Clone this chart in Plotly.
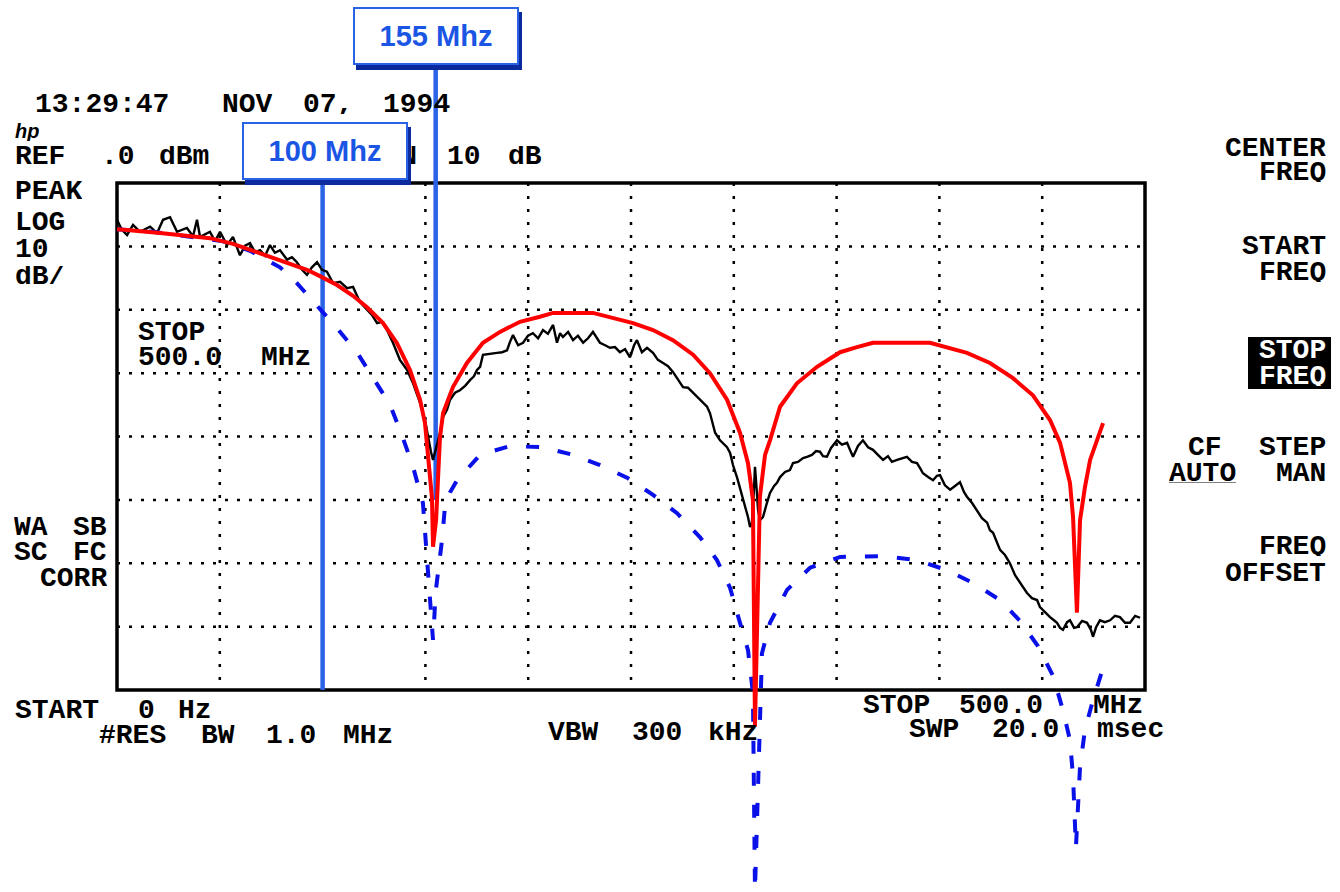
import plotly.graph_objects as go

# ---------------- data (MHz, dBm) ----------------
span_mhz = [0, 500]
ref_db = [0, -80]
grid_f = [50, 100, 150, 200, 250, 300, 350, 400, 450]
grid_db = [-10, -20, -30, -40, -50, -60, -70]

marker_f = [100, 155]
marker_labels = ["100 Mhz", "155 Mhz"]
marker_bottom_db = [-80, -50]

black_f = [0, 2.4, 4.9, 7.8, 11.2, 16.1, 19.5, 22.4, 25.8, 29.2,
           34.0, 37.0, 38.9, 40.4, 45.2, 47.7, 50.1, 53.5, 56.4, 59.8,
           62.3, 64.7, 67.1, 69.6, 72.0, 74.4, 76.8, 79.3, 82.7, 85.1,
           87.5, 90.0, 92.4, 94.8, 97.3, 99.7, 102.1, 105.1, 108.5, 111.9,
           114.8, 118.2, 121.6, 124.0, 126.5, 128.9, 131.3, 134.2, 137.6, 141.1,
           144.0, 147.4, 149.8, 151.3, 152.7, 153.7, 155.2, 157.1, 158.6, 160.5,
           162.0, 164.4, 166.8, 169.3, 171.7, 173.6, 175.1, 176.6, 178.0, 181.4,
           184.8, 187.3, 189.7, 191.1, 192.6, 195.1, 197.5, 199.9, 202.3, 204.8,
           207.2, 209.6, 212.1, 214.0, 215.5, 216.9, 219.4, 221.8, 224.2, 226.7,
           229.1, 231.5, 233.5, 234.9, 237.4, 239.8, 242.2, 244.6, 247.1, 249.5,
           251.5, 252.9, 255.3, 257.8, 260.7, 263.1, 265.6, 268.0, 270.4, 272.9,
           275.3, 277.7, 280.2, 282.6, 285.0, 287.0, 288.4, 289.9, 290.9, 293.3,
           294.7, 296.7, 298.2, 299.6, 301.6, 303.0, 304.5, 305.9, 306.9, 307.9,
           308.8, 309.8, 310.3, 310.8, 311.3, 311.8, 312.7, 314.2, 316.1, 317.6,
           319.6, 321.0, 322.5, 324.9, 327.3, 328.8, 331.2, 333.7, 335.6, 338.0,
           340.0, 341.9, 343.4, 345.3, 347.3, 350.2, 352.6, 355.1, 356.5, 358.0,
           360.4, 362.8, 365.3, 367.7, 370.1, 372.6, 375.0, 376.9, 379.4, 381.8,
           384.2, 386.7, 389.1, 390.6, 392.0, 394.5, 396.9, 398.8, 400.3, 402.7,
           405.2, 407.6, 410.0, 412.0, 413.4, 415.9, 418.3, 420.7, 423.2, 424.6,
           426.1, 428.0, 429.5, 431.9, 434.3, 436.8, 439.2, 441.1, 442.6, 445.0,
           447.5, 448.9, 450.4, 452.3, 453.8, 455.7, 457.2, 458.7, 460.1, 462.1,
           463.5, 465.5, 466.9, 469.4, 471.8, 473.7, 474.7, 476.2, 478.1, 480.5,
           483.0, 485.4, 487.8, 490.3, 492.7, 495.2, 497.6]
black_db = [-5.8, -7.4, -8.2, -6.6, -7.7, -6.9, -7.9, -5.8, -5.4, -7.7,
            -7.1, -8.4, -5.8, -8.5, -7.7, -9.2, -7.7, -9.8, -8.5, -11.4,
            -9.9, -9.5, -10.9, -10.6, -11.5, -9.8, -11.0, -10.6, -12.1, -11.7,
            -12.5, -13.7, -14.5, -13.3, -12.5, -13.7, -14.0, -15.8, -15.6, -16.6,
            -16.4, -18.8, -20.0, -20.8, -22.1, -21.9, -23.2, -25.2, -27.9, -29.5,
            -31.6, -34.7, -37.4, -40.1, -42.4, -43.7, -41.8, -39.4, -36.9, -35.8,
            -34.2, -33.1, -32.7, -32.0, -31.1, -30.5, -29.5, -29.0, -27.1, -27.0,
            -26.8, -26.7, -26.4, -25.1, -24.0, -25.6, -25.2, -24.1, -23.7, -24.5,
            -23.2, -23.8, -22.4, -25.2, -23.7, -24.3, -23.5, -24.8, -24.1, -25.2,
            -24.5, -23.5, -24.5, -25.2, -25.6, -26.0, -25.9, -26.7, -26.2, -27.5,
            -25.6, -24.8, -26.7, -26.0, -26.8, -27.9, -28.4, -28.9, -29.8, -31.1,
            -32.2, -32.3, -33.1, -33.9, -34.7, -35.3, -36.3, -38.2, -39.4, -40.6,
            -41.0, -41.7, -42.6, -44.5, -46.5, -48.1, -49.7, -51.6, -52.7, -54.3,
            -53.6, -48.4, -44.8, -46.9, -50.0, -51.6, -53.2, -52.7, -50.5, -48.9,
            -47.8, -47.3, -46.4, -45.6, -45.3, -44.2, -44.0, -43.4, -43.2, -42.9,
            -42.3, -42.4, -43.1, -43.2, -41.8, -40.6, -41.3, -41.0, -42.1, -43.2,
            -41.5, -40.6, -41.7, -42.1, -42.9, -43.7, -43.1, -44.0, -43.7, -43.4,
            -43.2, -44.0, -44.2, -45.0, -45.8, -46.4, -46.9, -46.2, -46.1, -47.7,
            -48.4, -47.8, -47.2, -48.8, -49.5, -50.5, -51.6, -52.9, -53.6, -54.8,
            -55.2, -56.6, -57.9, -58.7, -60.0, -61.9, -63.1, -63.9, -64.7, -65.5,
            -65.8, -66.9, -67.4, -68.0, -68.5, -69.0, -69.4, -70.2, -70.5, -69.3,
            -69.0, -70.2, -70.1, -69.1, -69.4, -70.5, -71.6, -70.1, -69.0, -69.3,
            -69.0, -68.3, -68.5, -69.4, -69.4, -68.3, -68.6]

red_f = [0, 4.9, 20.9, 45.2, 56.4, 68.1, 82.7, 92.4, 98.7, 107.0,
         114.8, 121.6, 129.4, 136.2, 142.5, 147.4, 149.8, 151.3, 153.2, 153.7,
         155.2, 156.1, 157.1, 158.6, 163.4, 170.2, 178.0, 186.3, 196.0, 205.7,
         212.1, 231.5, 241.2, 251.0, 260.7, 270.4, 280.2, 288.4, 296.7, 303.0,
         306.9, 309.3, 310.3, 312.7, 315.2, 317.6, 322.5, 330.7, 340.5, 351.7,
         359.9, 367.7, 395.4, 403.7, 413.4, 424.6, 435.8, 445.5, 453.8, 458.7,
         463.5, 465.0, 466.9, 468.4, 470.8, 473.3, 476.7, 479.6]
red_db = [-7.3, -7.4, -7.9, -8.7, -9.6, -10.9, -12.5, -13.7, -14.7, -16.1,
          -17.8, -19.6, -22.1, -25.3, -29.5, -34.2, -37.9, -42.6, -49.7, -57.4,
          -53.2, -46.9, -40.1, -36.3, -32.2, -28.4, -25.2, -23.5, -21.9, -21.1,
          -20.5, -20.5, -21.3, -22.1, -23.2, -24.8, -27.1, -30.0, -34.2, -39.4,
          -44.2, -50.0, -85.8, -49.5, -42.9, -40.6, -35.3, -31.6, -29.0, -26.7,
          -25.9, -25.2, -25.2, -26.0, -26.8, -28.4, -30.8, -33.5, -37.4, -41.0,
          -47.3, -52.7, -67.8, -53.2, -48.0, -43.7, -40.6, -37.9]

blue_f = [0, 17.5, 35.5, 51.6, 64.7, 79.3, 87.5, 97.3, 107.0, 116.7,
          124.5, 132.8, 138.6, 144.0, 148.8, 152.2, 153.7, 155.1, 158.1, 159.5,
          162.0, 165.4, 176.6, 191.1, 207.2, 221.8, 234.9, 248.1, 260.7, 272.4,
          283.6, 291.8, 298.2, 303.0, 306.9, 309.3, 310.3, 313.7, 317.6, 325.9,
          337.1, 351.7, 372.6, 389.1, 403.7, 416.3, 429.5, 439.2, 448.0, 455.3,
          460.1, 463.5, 465.0, 466.4, 468.4, 470.8, 474.7, 479.6]
blue_db = [-7.3, -7.7, -8.5, -9.2, -10.7, -13.3, -15.8, -19.3, -22.9, -26.7,
           -30.6, -35.0, -39.8, -44.8, -50.5, -65.8, -72.1, -64.2, -56.3, -51.1,
           -48.8, -46.9, -42.9, -41.5, -41.7, -42.9, -44.5, -46.5, -49.2, -52.1,
           -55.9, -59.5, -63.9, -69.4, -73.7, -80.5, -111.6, -74.2, -69.4, -64.2,
           -60.7, -59.0, -58.9, -59.5, -61.1, -63.1, -65.8, -69.1, -73.1, -77.8,
           -83.2, -87.9, -93.7, -104.9, -92.1, -86.3, -81.6, -76.5]

assert len(black_f) == len(black_db)
assert len(red_f) == len(red_db)
assert len(blue_f) == len(blue_db)

# ---------------- layout geometry (pixels) ----------------
W, H = 1340, 892
BOX_L, BOX_R, BOX_T, BOX_B = 117, 1145, 183, 690
sx = (BOX_R - BOX_L) / (span_mhz[1] - span_mhz[0])
sy = (BOX_B - BOX_T) / (ref_db[0] - ref_db[1])
x_range = [span_mhz[0] - BOX_L / sx, span_mhz[0] + (W - BOX_L) / sx]
y_range = [ref_db[0] - (H - BOX_T) / sy, ref_db[0] + BOX_T / sy]


def py2db(py):
    return ref_db[0] - (py - BOX_T) / sy


MONO = "Liberation Mono"
BLUE_UI = "#2a62e6"
BLUE_TXT = "#1b55e4"
BLUE_SHADOW = "#0a2a9e"
BLUE_CURVE = "#0a10e8"


def T(text, x, y, anchor="left", size=28, color="black", family=MONO, weight="bold", **kw):
    return dict(text=text, x=x / W, y=1 - y / H, xref="paper", yref="paper",
                xanchor=anchor, yanchor="middle", showarrow=False, borderpad=0,
                height=20, valign="middle",
                font=dict(family=family, size=size, color=color, weight=weight), **kw)


fig = go.Figure()
fig.add_trace(go.Scatter(x=black_f, y=black_db, mode="lines",
                         line=dict(color="black", width=2.4), hoverinfo="skip"))
fig.add_trace(go.Scatter(x=blue_f, y=blue_db, mode="lines",
                         line=dict(color=BLUE_CURVE, width=4, dash="13px,19px"), hoverinfo="skip"))
fig.add_trace(go.Scatter(x=red_f, y=red_db, mode="lines",
                         line=dict(color="#ff0000", width=4), hoverinfo="skip"))

shapes = []
for f in grid_f:
    shapes.append(dict(type="line", x0=f, x1=f, y0=ref_db[0], y1=ref_db[1], layer="below",
                       line=dict(color="black", width=2.5, dash="3px,10px")))
for d in grid_db:
    shapes.append(dict(type="line", x0=span_mhz[0], x1=span_mhz[1], y0=d, y1=d, layer="below",
                       line=dict(color="black", width=2.5, dash="3px,9px")))
shapes.append(dict(type="rect", x0=span_mhz[0], x1=span_mhz[1], y0=ref_db[1], y1=ref_db[0],
                   layer="below", line=dict(color="black", width=3.5)))

# marker label boxes (pixel centres) and vertical marker lines
label_boxes = [(325, 151), (436, 36)]
BW_, BH_ = 162, 54
for f, lab, bot, (cx, cy) in zip(marker_f, marker_labels, marker_bottom_db, label_boxes):
    top_db = py2db(cy + BH_ / 2 + 6)
    shapes.append(dict(type="line", x0=f, x1=f, y0=top_db, y1=bot, layer="below",
                       line=dict(color=BLUE_UI, width=4.5)))

# inverse-video softkey
shapes.append(dict(type="rect", xref="paper", yref="paper", x0=1248 / W, x1=1331 / W,
                   y0=1 - 389 / H, y1=1 - 337 / H, fillcolor="black", line=dict(width=0)))

ann = []
# header
for w, x in [("13:29:47", 34), ("NOV", 221), ("07,", 302), ("1994", 382)]:
    ann.append(T(w, x, 104))
ann.append(T("<i>hp</i>", 14, 131, size=20, family="Liberation Sans"))
for w, x in [("REF", 14), (".0", 100), ("dBm", 158)]:
    ann.append(T(w, x, 156))
ann.append(T("ATTEN", 418, 156, anchor="right"))
ann.append(T("10", 446, 156))
ann.append(T("dB", 507, 156))
for w, y in [("PEAK", 191), ("LOG", 222), ("10", 249), ("dB/", 276)]:
    ann.append(T(w, 14, y))
ann.append(T("STOP", 137, 332))
ann.append(T("500.0", 137, 357))
ann.append(T("MHz", 260, 357))
ann.append(T("WA", 13, 527)); ann.append(T("SB", 108, 527, anchor="right"))
ann.append(T("SC", 13, 552)); ann.append(T("FC", 108, 552, anchor="right"))
ann.append(T("CORR", 108, 578, anchor="right"))
# bottom
for w, x in [("START", 14), ("0", 137), ("Hz", 177)]:
    ann.append(T(w, x, 710))
for w, x in [("#RES", 98), ("BW", 200), ("1.0", 265), ("MHz", 342)]:
    ann.append(T(w, x, 735))
for w, x in [("VBW", 547), ("300", 631), ("kHz", 707)]:
    ann.append(T(w, x, 732))
for w, x in [("STOP", 862), ("500.0", 958), ("MHz", 1092)]:
    ann.append(T(w, x, 705))
for w, x in [("SWP", 908), ("20.0", 991), ("msec", 1096)]:
    ann.append(T(w, x, 729))
# right soft keys
RX = 1327
for w, y in [("CENTER", 148), ("FREQ", 172), ("START", 246), ("FREQ", 272)]:
    ann.append(T(w, RX, y, anchor="right"))
ann.append(T("STOP", RX, 350, anchor="right", color="white"))
ann.append(T("FREQ", RX, 376, anchor="right", color="white"))
ann.append(T("CF", 1187, 447)); ann.append(T("STEP", RX, 447, anchor="right"))
ann.append(T("<u>AUTO</u>", 1168, 473)); ann.append(T("MAN", RX, 473, anchor="right"))
ann.append(T("FREQ", RX, 546, anchor="right"))
ann.append(T("OFFSET", RX, 573, anchor="right"))

# marker label boxes (drawn last so they cover text beneath)
for lab, (cx, cy) in zip(marker_labels, label_boxes):
    ann.append(dict(text=" ", x=(cx + 3) / W, y=1 - (cy + 5) / H, xref="paper", yref="paper",
                    xanchor="center", yanchor="middle", showarrow=False, width=BW_, height=BH_,
                    bgcolor=BLUE_SHADOW, bordercolor=BLUE_SHADOW, borderwidth=2, borderpad=0))
    ann.append(dict(text="<b>" + lab + "</b>", x=cx / W, y=1 - cy / H, xref="paper", yref="paper",
                    xanchor="center", yanchor="middle", showarrow=False, width=BW_, height=BH_,
                    bgcolor="white", bordercolor=BLUE_UI, borderwidth=2, borderpad=0,
                    font=dict(family="Liberation Sans", size=29, color=BLUE_TXT)))

fig.update_layout(
    width=W, height=H, margin=dict(l=0, r=0, t=0, b=0),
    paper_bgcolor="white", plot_bgcolor="white", showlegend=False,
    xaxis=dict(range=x_range, visible=False, fixedrange=True),
    yaxis=dict(range=y_range, visible=False, fixedrange=True),
    shapes=shapes, annotations=ann,
)

fig.write_html("out.html")
